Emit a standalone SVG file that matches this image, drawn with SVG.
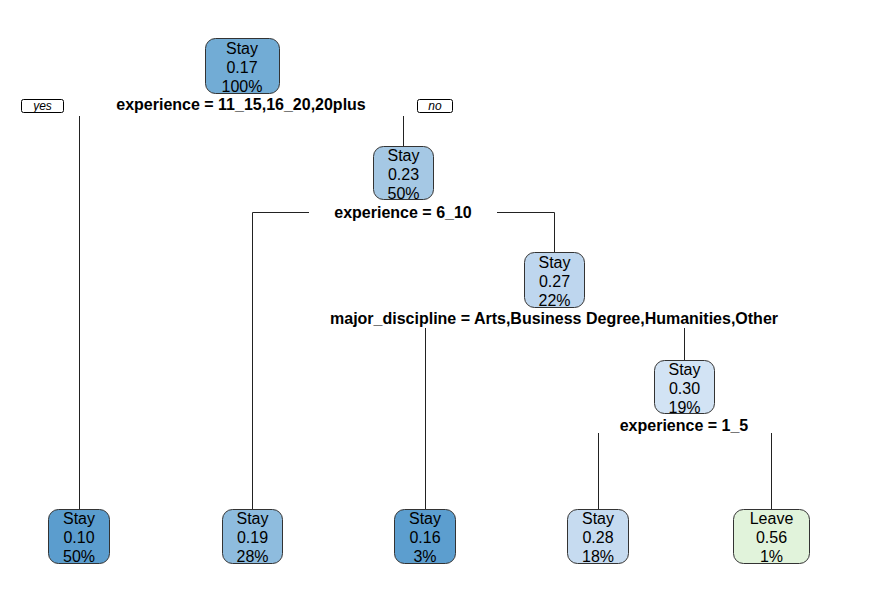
<svg xmlns="http://www.w3.org/2000/svg" width="879" height="601" viewBox="0 0 879 601">
<style>
.node rect{stroke:#333;stroke-width:1}
.node text{font-family:"Liberation Sans",Arial,sans-serif;font-size:16px;fill:#000;text-anchor:middle}
.split{font-family:"Liberation Sans",Arial,sans-serif;font-size:16px;font-weight:bold;fill:#000;text-anchor:middle}
.yn rect{fill:#fff;stroke:#000;stroke-width:1}
.yn text{font-family:"Liberation Sans",Arial,sans-serif;font-size:12px;font-style:italic;text-anchor:middle}
#connectors path{stroke:#222;stroke-width:1;fill:none}
</style>
<rect width="879" height="601" fill="#fff"/>
<g id="connectors">
<path d="M79.5 116V509"/>
<path d="M403.5 116V146"/>
<path d="M252.5 509V212.5H309"/>
<path d="M497 212.5H554.5V252"/>
<path d="M425.5 328V509"/>
<path d="M684.5 328V360"/>
<path d="M598.5 433V509"/>
<path d="M771.5 433V509"/>
</g>
<g id="yes" class="yn"><rect x="21.5" y="99.5" width="42" height="13" rx="2"/><text x="42.5" y="110">yes</text></g>
<g id="no" class="yn"><rect x="417.5" y="99.5" width="35" height="13" rx="2"/><text x="435" y="110">no</text></g>
<g id="n1" class="node"><rect x="205.5" y="38.5" width="74" height="55" rx="10" fill="#72ACD5"/><text x="242" y="54">Stay</text><text x="242" y="73">0.17</text><text x="242" y="92">100%</text></g>
<text class="split" x="241" y="110">experience = 11_15,16_20,20plus</text>
<g id="n2" class="node"><rect x="373.5" y="146.5" width="60" height="53" rx="10" fill="#A5C8E4"/><text x="403.5" y="161">Stay</text><text x="403.5" y="180">0.23</text><text x="403.5" y="199">50%</text></g>
<text class="split" x="403" y="218">experience = 6_10</text>
<g id="n3" class="node"><rect x="524.5" y="252.5" width="60" height="55" rx="10" fill="#BED6EE"/><text x="554.5" y="268">Stay</text><text x="554.5" y="287">0.27</text><text x="554.5" y="306">22%</text></g>
<text class="split" x="554" y="324">major_discipline = Arts,Business Degree,Humanities,Other</text>
<g id="n4" class="node"><rect x="654.5" y="360.5" width="60" height="53" rx="10" fill="#D2E3F4"/><text x="684.5" y="375">Stay</text><text x="684.5" y="394">0.30</text><text x="684.5" y="413">19%</text></g>
<text class="split" x="684" y="431">experience = 1_5</text>
<g id="leaf1" class="node"><rect x="48.5" y="509.5" width="61" height="54" rx="10" fill="#5B9DCE"/><text x="79" y="524">Stay</text><text x="79" y="543">0.10</text><text x="79" y="562">50%</text></g>
<g id="leaf2" class="node"><rect x="222.5" y="509.5" width="60" height="54" rx="10" fill="#8EBCDE"/><text x="252.5" y="524">Stay</text><text x="252.5" y="543">0.19</text><text x="252.5" y="562">28%</text></g>
<g id="leaf3" class="node"><rect x="394.5" y="509.5" width="61" height="54" rx="10" fill="#5C9ECF"/><text x="425" y="524">Stay</text><text x="425" y="543">0.16</text><text x="425" y="562">3%</text></g>
<g id="leaf4" class="node"><rect x="567.5" y="509.5" width="61" height="54" rx="10" fill="#C6DBF0"/><text x="598" y="524">Stay</text><text x="598" y="543">0.28</text><text x="598" y="562">18%</text></g>
<g id="leaf5" class="node"><rect x="733.5" y="509.5" width="76" height="54" rx="10" fill="#E1F3DB"/><text x="771.5" y="524">Leave</text><text x="771.5" y="543">0.56</text><text x="771.5" y="562">1%</text></g>
</svg>
